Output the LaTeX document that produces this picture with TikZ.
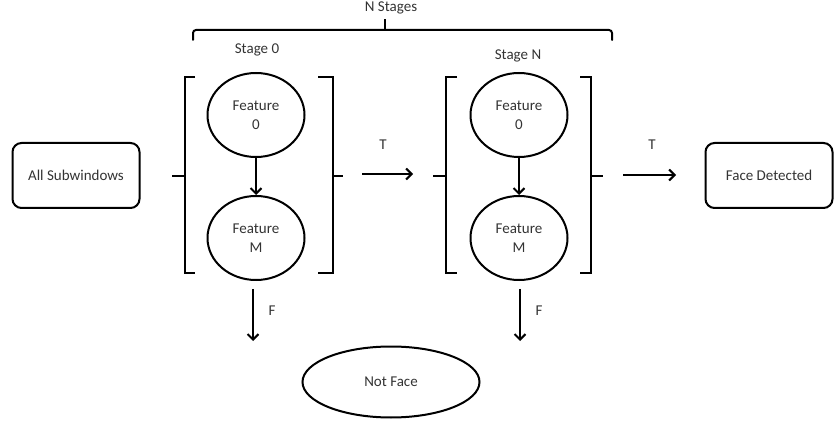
\documentclass[tikz,border=0pt]{standalone}
\usepackage{fontspec}
\setmainfont{Carlito}
\usetikzlibrary{shapes.geometric,arrows.meta}
\definecolor{txt}{HTML}{333333}
\begin{document}
\begin{tikzpicture}[x=1pt,y=-1pt,
  every node/.style={text=txt,font=\fontsize{15}{16}\selectfont},
  ln/.style={line width=2pt,line cap=butt},
  arr/.style={line width=2pt,-{Straight Barb[length=5.5pt,width=11pt,line width=2pt]}},
  rbox/.style={draw,line width=2pt,rounded corners=9pt,minimum width=127pt,minimum height=65pt,inner sep=0pt},
  feat/.style={draw,ellipse,line width=2pt,minimum width=97pt,minimum height=84pt,inner sep=0pt,align=center,font=\fontsize{15}{19}\selectfont},
  lbl/.style={inner sep=0pt}]
\useasboundingbox (0,0) rectangle (840,427);
% boxes
\node[rbox] (all) at (76,175.5) {All Subwindows};
\node[rbox] (face) at (769,175.5) {Face Detected};
% stage 0
\node[feat] (f00) at (256,115) {Feature\\0};
\node[feat] (f0m) at (256,238) {Feature\\M};
\draw[arr] (f00) -- (f0m);
% stage N
\node[feat] (fn0) at (519,115) {Feature\\0};
\node[feat] (fnm) at (519,238) {Feature\\M};
\draw[arr] (fn0) -- (fnm);
% brackets stage 0
\draw[ln] (195,77) -- (185,77) -- (185,273) -- (195,273);
\draw[ln] (185,176) -- (172,176);
\draw[ln] (318,77) -- (333,77) -- (333,273) -- (318,273);
\draw[ln] (333,176) -- (343,176);
% brackets stage N
\draw[ln] (457,77) -- (446,77) -- (446,273) -- (457,273);
\draw[ln] (446,176) -- (433,176);
\draw[ln] (580,77) -- (591,77) -- (591,273) -- (580,273);
\draw[ln] (591,176) -- (603,176);
% labels
\node[lbl] (s0) at (257,50) {Stage 0};
\node[lbl] (sn) at (518,56) {Stage N};
\node[lbl] (ns) at (391,8) {N Stages};
% top brace
\draw[ln,line cap=round,rounded corners=3pt] (193,40) -- (193,30) -- (612,30) -- (612,40);
\draw[ln] (385,30) -- (385,19);
% T arrows
\coordinate (t1a) at (362,174);
\coordinate (t1b) at (413,174);
\draw[arr] (t1a) -- (t1b);
\node[lbl] (t1) at (383,145) {T};
\coordinate (t2a) at (623,175);
\coordinate (t2b) at (676,175);
\draw[arr] (t2a) -- (t2b);
\node[lbl] (t2) at (652,145) {T};
% F arrows
\coordinate (fa) at (253,289);
\coordinate (fb) at (253,341);
\draw[arr] (fa) -- (fb);
\node[lbl] (fl1) at (272,311) {F};
\coordinate (fc) at (520,289);
\coordinate (fd) at (520,341);
\draw[arr] (fc) -- (fd);
\node[lbl] (fl2) at (539,311) {F};
% not face
\node[draw,ellipse,line width=2pt,minimum width=177pt,minimum height=71pt,inner sep=0pt] (nf) at (391,382) {Not Face};
\end{tikzpicture}
\end{document}
